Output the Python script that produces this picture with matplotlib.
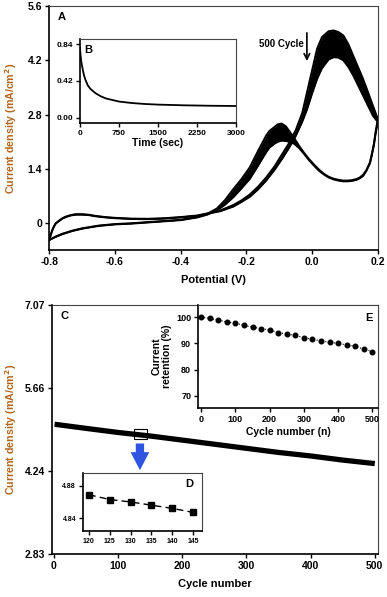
import matplotlib.pyplot as plt
from matplotlib.patches import Rectangle

plt.rcParams['font.family'] = ['Liberation Sans', 'DejaVu Sans']
plt.rcParams['font.weight'] = 'bold'

# ---- panel A: CV, first cycle vs 500th cycle ----
fwd_v = [-0.8, -0.795, -0.79, -0.785, -0.78, -0.77, -0.76, -0.75, -0.735, -0.72, -0.70, -0.68,
         -0.66, -0.63, -0.6, -0.55, -0.5, -0.45, -0.4, -0.35, -0.31, -0.28, -0.26, -0.24,
         -0.215, -0.19, -0.165, -0.14, -0.115, -0.09, -0.07, -0.05, -0.03, -0.015, 0.0,
         0.015, 0.03, 0.05, 0.065, 0.08, 0.095, 0.11, 0.125, 0.14, 0.155, 0.17, 0.185, 0.195, 0.2]
fwd_i_first = [-0.43, -0.28, -0.16, -0.07, 0.0, 0.07, 0.13, 0.17, 0.21, 0.235, 0.235, 0.22,
               0.19, 0.16, 0.14, 0.12, 0.115, 0.13, 0.16, 0.20, 0.27, 0.33, 0.40, 0.47,
               0.59, 0.74, 0.94, 1.18, 1.46, 1.80, 2.07, 2.40, 2.85, 3.40, 3.95,
               4.50, 4.80, 4.95, 4.97, 4.93, 4.84, 4.62, 4.32, 4.02, 3.72, 3.38, 3.03, 2.80, 2.70]
fwd_i_last = [-0.43, -0.28, -0.16, -0.07, 0.0, 0.06, 0.12, 0.16, 0.20, 0.22, 0.22, 0.21,
              0.18, 0.15, 0.13, 0.11, 0.105, 0.12, 0.15, 0.19, 0.26, 0.31, 0.37, 0.43,
              0.55, 0.68, 0.87, 1.10, 1.37, 1.68, 1.95, 2.25, 2.62, 2.95, 3.35,
              3.72, 4.00, 4.22, 4.28, 4.27, 4.20, 4.03, 3.81, 3.55, 3.29, 3.03, 2.77, 2.66, 2.62]

rev_v = [0.2, 0.197, 0.193, 0.188, 0.182, 0.176, 0.165, 0.155, 0.145, 0.135, 0.12, 0.105,
         0.095, 0.08, 0.065, 0.05, 0.035, 0.02, 0.005, -0.01, -0.025, -0.04, -0.055, -0.07,
         -0.08, -0.093, -0.105, -0.115, -0.13, -0.14, -0.165, -0.19, -0.215, -0.24, -0.265,
         -0.29, -0.32, -0.35, -0.4, -0.45, -0.5, -0.55, -0.6, -0.65, -0.7, -0.73, -0.76, -0.78, -0.8]
rev_i_first = [2.70, 2.55, 2.35, 2.05, 1.80, 1.57, 1.37, 1.25, 1.18, 1.14, 1.11, 1.10,
               1.10, 1.12, 1.15, 1.20, 1.28, 1.39, 1.52, 1.66, 1.82, 2.00, 2.20, 2.38,
               2.50, 2.57, 2.55, 2.48, 2.38, 2.26, 1.86, 1.44, 1.14, 0.88, 0.60,
               0.38, 0.24, 0.16, 0.09, 0.06, 0.03, 0.0, -0.02, -0.06, -0.13, -0.19, -0.27, -0.34, -0.43]
rev_i_last = [2.62, 2.48, 2.30, 2.02, 1.77, 1.55, 1.35, 1.22, 1.16, 1.12, 1.09, 1.08,
              1.08, 1.10, 1.13, 1.18, 1.26, 1.36, 1.49, 1.63, 1.79, 1.94, 2.05, 2.10,
              2.12, 2.13, 2.10, 2.05, 1.95, 1.83, 1.48, 1.14, 0.90, 0.67, 0.48,
              0.33, 0.22, 0.15, 0.08, 0.05, 0.02, -0.01, -0.03, -0.07, -0.14, -0.20, -0.28, -0.35, -0.43]

# ---- panel B: chronoamperometry ----
ca_t = [0, 10, 25, 50, 75, 100, 150, 200, 300, 400, 500, 750, 1000, 1250, 1500, 2000, 2500, 3000]
ca_i = [0.80, 0.72, 0.64, 0.56, 0.49, 0.44, 0.37, 0.33, 0.28, 0.245, 0.22, 0.185, 0.168,
        0.157, 0.15, 0.142, 0.137, 0.134]

# ---- panel C: peak current vs cycle ----
c_cycle = [1, 50, 100, 150, 200, 250, 300, 350, 400, 450, 500]
c_current = [5.04, 4.97, 4.90, 4.84, 4.77, 4.70, 4.63, 4.56, 4.50, 4.43, 4.37]

# ---- panel D: zoom of C ----
d_cycle = [120, 125, 130, 135, 140, 145]
d_current = [4.869, 4.863, 4.860, 4.856, 4.852, 4.847]

# ---- panel E: retention ----
e_cycle = [0, 25, 50, 75, 100, 125, 150, 175, 200, 225, 250, 275, 300, 325, 350, 375,
           400, 425, 450, 475, 500]
e_retention = [100, 99.5, 98.9, 98.1, 97.7, 96.8, 96.2, 95.6, 95.1, 94.1, 93.6, 93.0,
               92.2, 91.5, 91.0, 90.4, 90.0, 89.4, 88.9, 87.8, 86.9]

label_color = '#b5651d'


def style(ax, fs):
    for s in ['left', 'bottom']:
        ax.spines[s].set_linewidth(1.2)
        ax.spines[s].set_color('black')
    for s in ['top', 'right']:
        ax.spines[s].set_linewidth(0.8)
        ax.spines[s].set_color('#444444')
    ax.tick_params(direction='out', length=3, width=1, labelsize=fs, pad=2,
                   top=False, right=False)
    for t in ax.get_xticklabels() + ax.get_yticklabels():
        t.set_fontweight('bold')


fig = plt.figure(figsize=(3.87, 5.97), dpi=100)

# A
axA = fig.add_axes([0.1274, 0.5812, 0.849, 0.4087])
axA.fill_between(fwd_v, fwd_i_last, fwd_i_first, color='black', lw=0)
axA.fill_between(rev_v, rev_i_last, rev_i_first, color='black', lw=0)
for v, i in [(fwd_v, fwd_i_first), (fwd_v, fwd_i_last), (rev_v, rev_i_first), (rev_v, rev_i_last)]:
    axA.plot(v, i, color='black', lw=1.4, solid_joinstyle='round')
axA.set_xlim(-0.8, 0.2)
axA.set_ylim(-0.69, 5.6)
axA.set_xticks([-0.8, -0.6, -0.4, -0.2, 0.0, 0.2])
axA.set_xticklabels(['-0.8', '-0.6', '-0.4', '-0.2', '0.0', '0.2'])
axA.set_yticks([0, 1.4, 2.8, 4.2, 5.6])
axA.set_yticklabels(['0', '1.4', '2.8', '4.2', '5.6'])
style(axA, 7.5)
axA.set_xlabel('Potential (V)', fontsize=8, fontweight='bold', labelpad=6)
axA.set_ylabel('Current density (mA/cm$^{\\mathbf{2}}$)', fontsize=7.7, fontweight='bold',
               color=label_color)
axA.yaxis.set_label_coords(-0.093, 0.5)
axA.text(0.025, 0.975, 'A', transform=axA.transAxes, fontsize=8, fontweight='bold',
         va='top', ha='left')
axA.annotate('', xy=(-0.016, 4.11), xytext=(-0.016, 4.98),
             arrowprops=dict(arrowstyle='->', color='black', lw=1.2))
axA.text(-0.026, 4.63, '500 Cycle', fontsize=7, fontweight='bold', ha='right', va='center')

# B
axB = fig.add_axes([0.2067, 0.794, 0.403, 0.1407])
axB.plot(ca_t, ca_i, color='black', lw=1.3)
axB.set_xlim(0, 3000)
axB.set_ylim(-0.06, 0.9)
axB.set_xticks([0, 750, 1500, 2250, 3000])
axB.set_yticks([0.0, 0.42, 0.84])
axB.set_yticklabels(['0.00', '0.42', '0.84'])
style(axB, 6)
axB.set_xlabel('Time (sec)', fontsize=7.5, fontweight='bold', labelpad=1)
axB.text(0.03, 0.93, 'B', transform=axB.transAxes, fontsize=8, fontweight='bold',
         va='top', ha='left')

# C
axC = fig.add_axes([0.1344, 0.072, 0.8424, 0.417])
axC.plot(c_cycle, c_current, color='black', lw=3.8, solid_capstyle='butt')
axC.add_patch(Rectangle((125, 4.785), 20, 0.17, fill=False, edgecolor='black', lw=0.8))
axC.annotate('', xy=(134, 4.21), xytext=(134, 4.76),
             arrowprops=dict(arrowstyle='simple,head_length=1.3,head_width=1.35,tail_width=0.6',
                             color='#2f55e0', mutation_scale=10, lw=0))
axC.set_xlim(-3, 505)
axC.set_ylim(2.83, 7.07)
axC.set_xticks([0, 100, 200, 300, 400, 500])
axC.set_yticks([2.83, 4.24, 5.66, 7.07])
axC.set_yticklabels(['2.83', '4.24', '5.66', '7.07'])
style(axC, 7.5)
axC.set_xlabel('Cycle number', fontsize=8, fontweight='bold', labelpad=6)
axC.set_ylabel('Current density (mA/cm$^{\\mathbf{2}}$)', fontsize=7.7, fontweight='bold',
               color=label_color)
axC.yaxis.set_label_coords(-0.102, 0.5)
axC.text(0.025, 0.975, 'C', transform=axC.transAxes, fontsize=8, fontweight='bold',
         va='top', ha='left')

# D
axD = fig.add_axes([0.2145, 0.1106, 0.3075, 0.0972])
axD.plot(d_cycle, d_current, color='black', lw=1, ls=(0, (5, 3)), marker='s', ms=4.2)
axD.set_xlim(118.6, 147.1)
axD.set_ylim(4.824, 4.896)
axD.set_xticks(d_cycle)
axD.set_yticks([4.84, 4.88])
style(axD, 5)
axD.text(0.93, 0.9, 'D', transform=axD.transAxes, fontsize=8, fontweight='bold',
         va='top', ha='right')

# E
axE = fig.add_axes([0.512, 0.3166, 0.465, 0.1725])
axE.plot(e_cycle, e_retention, color='black', lw=0.8, ls=':', marker='o', ms=3.3)
axE.set_xlim(-9, 517)
axE.set_ylim(65.4, 104.6)
axE.set_xticks([0, 100, 200, 300, 400, 500])
axE.set_yticks([70, 80, 90, 100])
style(axE, 6.5)
axE.set_xlabel('Cycle number (n)', fontsize=7.5, fontweight='bold', labelpad=2)
axE.set_ylabel('Current\nretention (%)', fontsize=7.5, fontweight='bold', labelpad=3,
               linespacing=1.0)
axE.text(0.97, 0.92, 'E', transform=axE.transAxes, fontsize=8, fontweight='bold',
         va='top', ha='right')

fig.savefig('out.png', dpi=100)
